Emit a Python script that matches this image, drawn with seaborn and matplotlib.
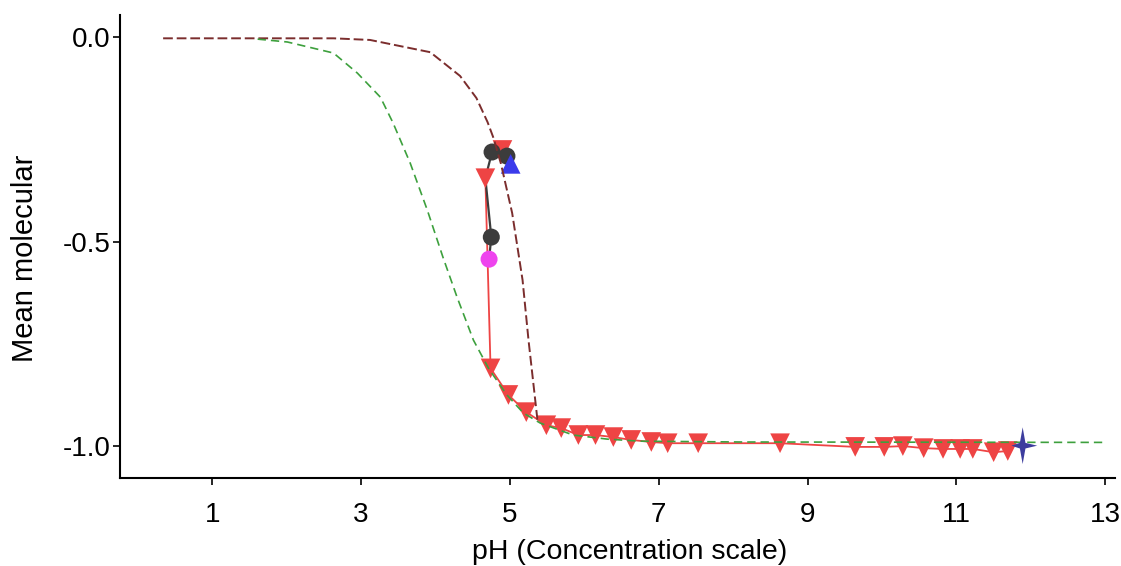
import matplotlib
matplotlib.use("Agg")
import matplotlib.pyplot as plt
import seaborn as sns
import pandas as pd

sns.set_theme(style="white")
plt.rcParams["font.family"] = ["Liberation Sans", "DejaVu Sans"]

# ---- data ----
brown_x = [0.34, 1.4, 2.63, 3.12, 3.93, 4.33, 4.55, 4.70, 4.78, 4.88, 5.03, 5.17, 5.25, 5.37]
brown_y = [-0.003, -0.003, -0.003, -0.007, -0.037, -0.095, -0.149, -0.208, -0.247, -0.31, -0.43, -0.594, -0.741, -0.936]

green_x = [1.61, 2.01, 2.63, 2.95, 3.26, 3.43, 3.66, 3.89, 4.10, 4.29, 4.51, 4.72, 4.96, 5.18, 5.41, 5.85, 6.31, 6.75, 8.1, 13.0]
green_y = [-0.005, -0.012, -0.039, -0.088, -0.147, -0.21, -0.308, -0.423, -0.538, -0.636, -0.741, -0.812, -0.875, -0.919, -0.944, -0.973, -0.983, -0.988, -0.990, -0.991]

red_x = [4.90, 4.67, 4.74, 4.98, 5.22, 5.49, 5.69, 5.92, 6.15, 6.39, 6.63, 6.90, 7.12, 7.53,
         8.63, 9.64, 10.03, 10.28, 10.56, 10.82, 11.05, 11.22, 11.50, 11.69]
red_y = [-0.276, -0.345, -0.81, -0.875, -0.917, -0.949, -0.956, -0.973, -0.973, -0.978, -0.985, -0.99, -0.993, -0.993,
         -0.993, -1.002, -1.002, -1.0, -1.005, -1.007, -1.007, -1.007, -1.015, -1.012]

black_x = [4.96, 4.76, 4.67, 4.75, 4.72]
black_y = [-0.291, -0.281, -0.345, -0.489, -0.543]
black_marked = [0, 1, 3]

magenta_x = [4.72]
magenta_y = [-0.543]

blue_x = [5.01]
blue_y = [-0.31]

star_x = [11.89]
star_y = [-0.999]

x_ticks = [1, 3, 5, 7, 9, 11, 13]
y_ticks = [0.0, -0.5, -1.0]
y_tick_labels = ["0.0", "-0.5", "-1.0"]

# ---- colours ----
c_red = "#EE4444"
c_brown = "#7B2D2D"
c_green = "#3DA03D"
c_black = "#3C3C3C"
c_mag = "#EE44EE"
c_blue = "#3B3BEB"
c_star = "#3D3D9E"

fig = plt.figure(figsize=(11.21, 5.66), dpi=100)
ax = fig.add_axes([0.107, 0.1555, 0.8876, 0.818])

red_df = pd.DataFrame({"x": red_x, "y": red_y})
black_df = pd.DataFrame({"x": black_x, "y": black_y})

# red line (starting at 2nd point) and markers
sns.lineplot(data=red_df.iloc[1:], x="x", y="y", sort=False, estimator=None,
             color=c_red, lw=1.3, ax=ax, zorder=2)
sns.scatterplot(data=red_df, x="x", y="y", marker="v", s=200, color=c_red,
                edgecolor="none", ax=ax, zorder=3)

# black line and circles
sns.lineplot(data=black_df, x="x", y="y", sort=False, estimator=None,
             color=c_black, lw=1.6, ax=ax, zorder=2)
sns.scatterplot(data=black_df.iloc[black_marked], x="x", y="y", marker="o", s=150,
                color=c_black, edgecolor="none", ax=ax, zorder=4)
sns.scatterplot(x=magenta_x, y=magenta_y, marker="o", s=150, color=c_mag,
                edgecolor="none", ax=ax, zorder=4)
sns.scatterplot(x=blue_x, y=blue_y, marker="^", s=200, color=c_blue,
                edgecolor="none", ax=ax, zorder=4)

# dashed model curves on top
sns.lineplot(x=brown_x, y=brown_y, sort=False, estimator=None, color=c_brown,
             lw=1.4, ax=ax, zorder=5)
ax.lines[-1].set_dashes([5, 2])
sns.lineplot(x=green_x, y=green_y, sort=False, estimator=None, color=c_green,
             lw=1.2, ax=ax, zorder=5)
ax.lines[-1].set_dashes([5, 3])

# star
star_verts = [(0, 1.45), (0.22, 0.22), (1.15, 0), (0.22, -0.22), (0, -1.45),
              (-0.22, -0.22), (-0.9, 0), (-0.22, 0.22), (0, 1.45)]
sns.scatterplot(x=star_x, y=star_y, marker=star_verts, s=700, color=c_star,
                edgecolor="none", ax=ax, zorder=6)

ax.set_xlim(-0.24, 13.13)
ax.set_ylim(-1.078, 0.054)
ax.set_xticks(x_ticks)
ax.set_xticklabels([str(t) for t in x_ticks])
ax.set_yticks(y_ticks)
ax.set_yticklabels(y_tick_labels)

for s in ["top", "right"]:
    ax.spines[s].set_visible(False)
for s in ["left", "bottom"]:
    ax.spines[s].set_color("black")
    ax.spines[s].set_linewidth(1.5)

ax.tick_params(axis="x", direction="out", length=5, width=1.2, pad=12,
               labelsize=20, colors="black", bottom=True)
ax.tick_params(axis="y", direction="out", length=5, width=1.2, pad=2,
               labelsize=20, colors="black", left=True)
ax.set_xlabel("pH (Concentration scale)", fontsize=20.5, color="black")
ax.set_ylabel("Mean molecular", fontsize=21, color="black")
ax.xaxis.set_label_coords(0.5126, -0.131)
ax.yaxis.set_label_coords(-0.081, 0.475)
ax.grid(False)

fig.savefig("out.png", dpi=100)
